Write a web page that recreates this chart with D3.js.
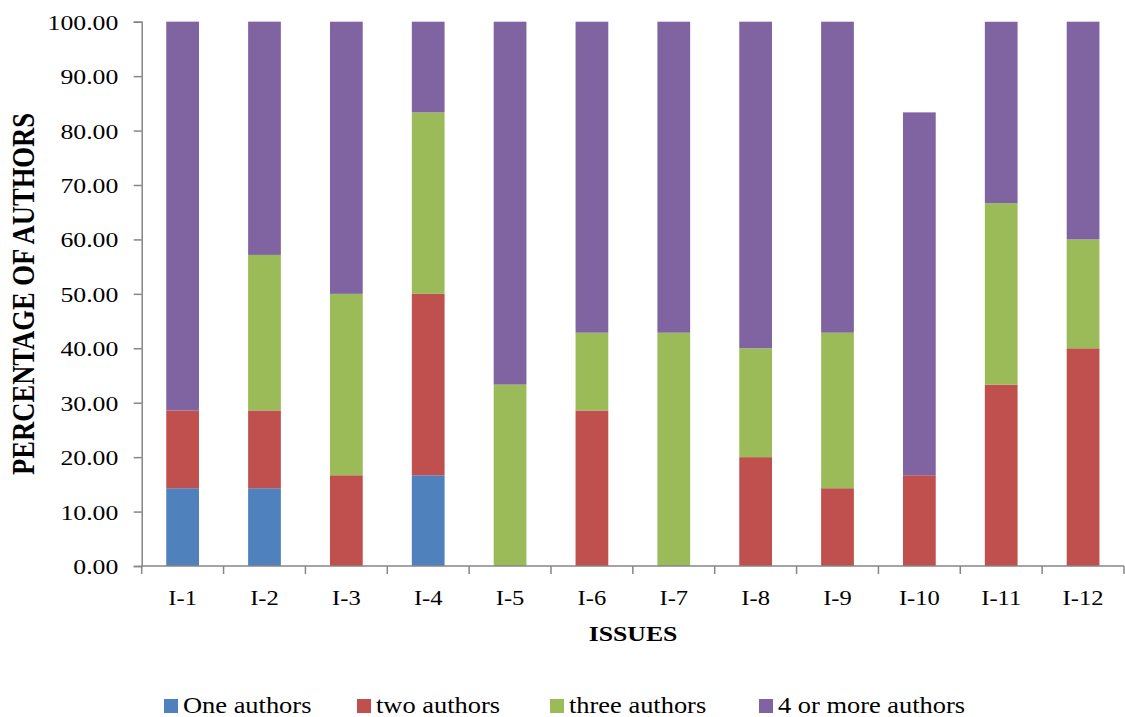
<!DOCTYPE html>
<html>
<head>
<meta charset="utf-8">
<script src="https://cdn.jsdelivr.net/npm/d3@7"></script>
<style>
  html, body { margin: 0; padding: 0; background: #fff; }
  svg { display: block; }
  text { font-family: "Liberation Serif", "Times New Roman", serif; fill: #000; }
</style>
</head>
<body>
<div id="chart"></div>
<script>
// Issues on the x axis
const issues = ["I-1", "I-2", "I-3", "I-4", "I-5", "I-6", "I-7", "I-8", "I-9", "I-10", "I-11", "I-12"];

// Share of papers (%) per issue, by number of authors
const oneAuthors   = [14.29, 14.29, 0.00, 16.67, 0.00, 0.00, 0.00, 0.00, 0.00, 0.00, 0.00, 0.00];
const twoAuthors   = [14.29, 14.29, 16.67, 33.33, 0.00, 28.57, 0.00, 20.00, 14.29, 16.67, 33.33, 40.00];
const threeAuthors = [0.00, 28.57, 33.33, 33.33, 33.33, 14.29, 42.86, 20.00, 28.57, 0.00, 33.33, 20.00];
const fourPlus     = [71.43, 42.86, 50.00, 16.67, 66.67, 57.14, 57.14, 60.00, 57.14, 66.67, 33.33, 40.00];

const seriesNames = ["One authors", "two authors", "three authors", "4 or more authors"];
const seriesColors = ["#4F81BD", "#C0504D", "#9BBB59", "#8064A2"];

const yTicks = [0, 10, 20, 30, 40, 50, 60, 70, 80, 90, 100];

const W = 1125, H = 717;
const m = { left: 141.7, right: 1, top: 21.7, bottom: 151 };
const SX = 1.17; // horizontal text stretch

const rows = issues.map((k, i) => ({
  issue: k,
  s0: oneAuthors[i], s1: twoAuthors[i], s2: threeAuthors[i], s3: fourPlus[i]
}));
const keys = ["s0", "s1", "s2", "s3"];
const stacked = d3.stack().keys(keys)(rows);

const svg = d3.select("#chart").append("svg").attr("width", W).attr("height", H);

const x = d3.scaleBand().domain(issues)
  .range([m.left, W - m.right])
  .paddingInner(0.6).paddingOuter(0.3);
const y = d3.scaleLinear().domain([0, 100]).range([H - m.bottom, m.top]);

const axisColor = "#868686";

// bars
svg.append("g").selectAll("g")
  .data(stacked)
  .join("g")
  .attr("fill", (d, i) => seriesColors[i])
  .selectAll("rect")
  .data(d => d)
  .join("rect")
  .attr("x", d => x(d.data.issue))
  .attr("width", x.bandwidth())
  .attr("y", d => y(d[1]))
  .attr("height", d => Math.max(0, y(d[0]) - y(d[1])));

// y axis
const yAxis = svg.append("g")
  .attr("transform", `translate(${m.left},0)`)
  .call(d3.axisLeft(y).tickValues(yTicks).tickSize(8).tickFormat(d => d3.format(".2f")(d)));
yAxis.select(".domain").attr("stroke", axisColor).attr("stroke-width", 1.5);
yAxis.selectAll(".tick line").attr("stroke", axisColor).attr("stroke-width", 1.5);
yAxis.selectAll(".tick text").each(function () {
  const t = d3.select(this);
  t.attr("x", null).attr("dy", null)
    .attr("transform", `translate(-23.4,0) scale(${SX},1)`)
    .attr("dy", "0.34em")
    .attr("font-size", 22)
    .style("font-family", '"Liberation Serif", "Times New Roman", serif');
});

// x axis: ticks at category boundaries
const xBase = y(0);
const xAxisG = svg.append("g");
xAxisG.append("line")
  .attr("x1", m.left).attr("x2", W - m.right)
  .attr("y1", xBase).attr("y2", xBase)
  .attr("stroke", axisColor).attr("stroke-width", 1.5);
const step = x.step();
const bounds = d3.range(issues.length + 1).map(i => m.left + i * step);
xAxisG.selectAll("line.tk").data(bounds).join("line")
  .attr("class", "tk")
  .attr("x1", d => d).attr("x2", d => d)
  .attr("y1", xBase).attr("y2", xBase + 8)
  .attr("stroke", axisColor).attr("stroke-width", 1.5);
xAxisG.selectAll("text").data(issues).join("text")
  .attr("transform", d => `translate(${x(d) + x.bandwidth() / 2},605) scale(${SX},1)`)
  .attr("text-anchor", "middle")
  .attr("font-size", 21)
  .text(d => d);

// axis titles
svg.append("text")
  .attr("transform", `translate(633,641) scale(${SX},1)`)
  .attr("text-anchor", "middle")
  .attr("font-size", 22)
  .attr("font-weight", "bold")
  .text("ISSUES");

svg.append("text")
  .attr("transform", `translate(34,294) scale(${SX},1) rotate(-90)`)
  .attr("text-anchor", "middle")
  .attr("font-size", 26.6)
  .attr("font-weight", "bold")
  .text("PERCENTAGE OF AUTHORS");

// legend
const legendX = [164, 357, 550, 759];
const lg = svg.append("g").selectAll("g").data(seriesNames).join("g")
  .attr("transform", (d, i) => `translate(${legendX[i]},0)`);
lg.append("rect")
  .attr("x", 0).attr("y", 699).attr("width", 14).attr("height", 14)
  .attr("fill", (d, i) => seriesColors[i]);
lg.append("text")
  .attr("transform", `translate(19,713) scale(${SX},1)`)
  .attr("font-size", 22.6)
  .text(d => d);
</script>
</body>
</html>
